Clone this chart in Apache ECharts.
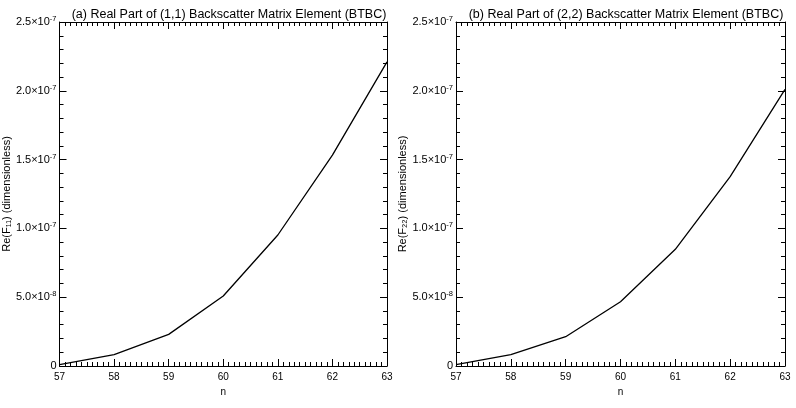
<!DOCTYPE html>
<html>
<head>
<meta charset="utf-8">
<script src="https://cdn.jsdelivr.net/npm/echarts@6/dist/echarts.min.js"></script>
<style>
  body { margin: 0; background: #fff; }
  #main { width: 796px; height: 408px; }
</style>
</head>
<body>
<div id="main"></div>
<script>
// values
var nVals = [57, 58, 59, 60, 61, 62, 63];
var f11Vals = [1.0e-9, 8.2e-9, 2.30e-8, 5.09e-8, 9.52e-8, 1.533e-7, 2.21e-7];
var f22Vals = [1.0e-9, 8.2e-9, 2.13e-8, 4.67e-8, 8.48e-8, 1.376e-7, 2.01e-7];

// y tick labels: mantissa and exponent
var yTickMant = ['0', '5.0', '1.0', '1.5', '2.0', '2.5'];
var yTickExp = ['', '-8', '-7', '-7', '-7', '-7'];

var titles = [
  '(a) Real Part of (1,1) Backscatter Matrix Element (BTBC)',
  '(b) Real Part of (2,2) Backscatter Matrix Element (BTBC)'
];
var yNames = ['Re(F₁₁) (dimensionless)', 'Re(F₂₂) (dimensionless)'];

var font = 'Liberation Sans';

function yLabel(v) {
  var i = Math.round(v / 5e-8);
  if (!yTickExp[i]) return '{m|' + yTickMant[i] + '}';
  return '{m|' + yTickMant[i] + '×10}{e|' + yTickExp[i] + '}';
}

var dom = document.getElementById('main');
var myChart = echarts.init(dom);

var grids = [
  { left: 59, right: 409, top: 22, bottom: 42 },
  { left: 456, right: 11, top: 22, bottom: 42 }
];

var xAxes = [];
var yAxes = [];
var series = [];
var titleList = [];

for (var g = 0; g < 2; g++) {
  var tickBase = {
    min: 57, max: 63, interval: 1,
    axisLine: { show: true, onZero: false, lineStyle: { color: '#000', width: 1 } },
    axisTick: { show: true, inside: true, length: 7, lineStyle: { color: '#000' } },
    minorTick: { show: true, splitNumber: 10, length: 4, lineStyle: { color: '#000' } },
    splitLine: { show: false }
  };
  xAxes.push(Object.assign({}, tickBase, {
    type: 'value', gridIndex: g, position: 'bottom',
    name: 'n', nameLocation: 'middle', nameGap: 18,
    nameTextStyle: { color: '#000', fontFamily: font, fontSize: 10 },
    axisLabel: { color: '#000', fontFamily: font, fontSize: 10, margin: 6 }
  }));
  xAxes.push(Object.assign({}, tickBase, {
    type: 'value', gridIndex: g, position: 'top',
    axisLabel: { show: false }
  }));

  var yBase = {
    type: 'value', gridIndex: g, min: 0, max: 2.5e-7, interval: 5e-8,
    axisLine: { show: true, onZero: false, lineStyle: { color: '#000', width: 1 } },
    axisTick: { show: true, inside: true, length: 7, lineStyle: { color: '#000' } },
    minorTick: { show: true, splitNumber: 5, length: 4, lineStyle: { color: '#000' } },
    splitLine: { show: false }
  };
  yAxes.push(Object.assign({}, yBase, {
    position: 'left',
    name: yNames[g], nameLocation: 'middle', nameGap: 46, nameRotate: 90,
    nameTextStyle: { color: '#000', fontFamily: font, fontSize: 11 },
    axisLabel: {
      margin: 3,
      formatter: yLabel,
      rich: {
        m: { color: '#000', fontFamily: font, fontSize: 11, lineHeight: 14 },
        e: { color: '#000', fontFamily: font, fontSize: 7.5, verticalAlign: 'top', lineHeight: 14 }
      }
    }
  }));
  yAxes.push(Object.assign({}, yBase, {
    position: 'right',
    axisLabel: { show: false }
  }));

  series.push({
    type: 'line',
    xAxisIndex: g * 2, yAxisIndex: g * 2,
    data: nVals.map(function (n, i) { return [n, (g === 0 ? f11Vals : f22Vals)[i]]; }),
    showSymbol: false,
    lineStyle: { color: '#000', width: 1.3 },
    animation: false
  });

  titleList.push({
    text: titles[g],
    left: g === 0 ? 224 : 621,
    textAlign: 'center',
    top: 3,
    textStyle: { color: '#000', fontFamily: font, fontSize: 12.5, fontWeight: 'normal' }
  });
}

var option = {
  backgroundColor: '#fff',
  animation: false,
  title: titleList,
  grid: grids,
  xAxis: xAxes,
  yAxis: yAxes,
  series: series
};

myChart.setOption(option, true);
</script>
</body>
</html>
